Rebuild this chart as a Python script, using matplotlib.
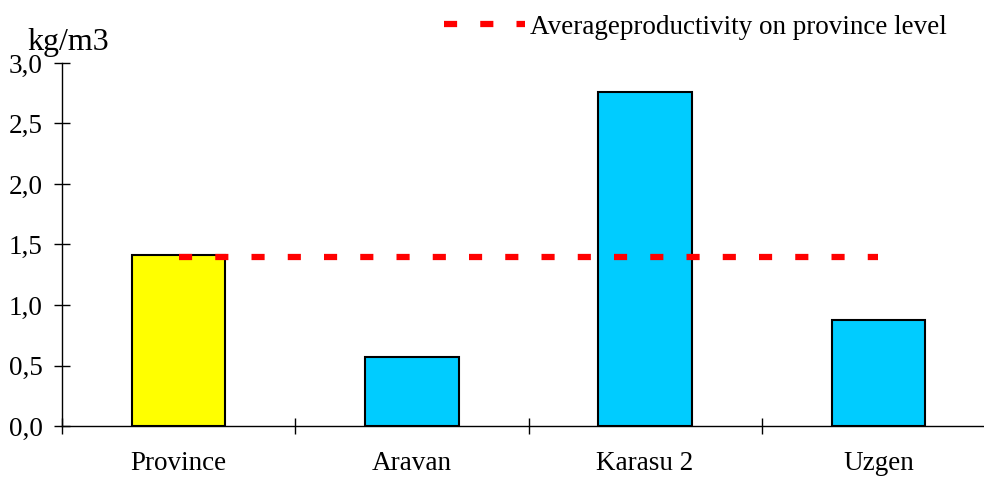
import matplotlib
matplotlib.use("Agg")
import matplotlib.pyplot as plt
from matplotlib.ticker import FuncFormatter

# ── data ─────────────────────────────────────────────────────────────────────
categories = ["Province", "Aravan", "Karasu 2", "Uzgen"]
productivity = [1.41, 0.57, 2.76, 0.88]
bar_colors = ["#FFFF00", "#00CCFF", "#00CCFF", "#00CCFF"]
province_avg = 1.40
legend_label = "Averageproductivity on province level"

plt.rcParams["font.family"] = ["Liberation Serif", "DejaVu Serif"]
plt.rcParams["font.size"] = 19.5

W, H = 984, 478
fig = plt.figure(figsize=(W / 100, H / 100), dpi=100)
ax = fig.add_axes([62 / W, (H - 426) / H, 933 / W, 363 / H])

x = list(range(len(categories)))
ax.bar(x, productivity, width=0.4, color=bar_colors, edgecolor="black",
       linewidth=1.5, zorder=2)

line, = ax.plot([x[0], x[-1]], [province_avg, province_avg], color="#FF0000",
                lw=4.5, zorder=3, label=legend_label, solid_capstyle="butt",
                dash_capstyle="butt")
line.set_dashes((2.1, 3.7))

ax.set_xlim(-0.5, len(categories) - 0.5)
ax.set_ylim(0, 3.0)
ax.set_yticks([0, 0.5, 1.0, 1.5, 2.0, 2.5, 3.0])
ax.yaxis.set_major_formatter(FuncFormatter(lambda v, p: f"{v:.1f}".replace(".", ",")))

# category labels centred, ticks at the boundaries
ax.set_xticks([i - 0.5 for i in x])
ax.set_xticklabels([])
ax.set_xticks(x, minor=True)
ax.set_xticklabels(categories, minor=True)
ax.tick_params(axis="x", which="minor", length=0, pad=18)
ax.tick_params(axis="x", which="major", direction="inout", length=12, width=1)
ax.tick_params(axis="y", direction="inout", length=12, width=1, pad=8)

for side in ("top", "right"):
    ax.spines[side].set_visible(False)
for side in ("left", "bottom"):
    ax.spines[side].set_linewidth(1)

fig.text(27 / W, 1 - 50 / H, "kg/m3", fontsize=23, ha="left", va="baseline")

ax.legend(loc="center left", bbox_to_anchor=(430 / W, 1 - 27 / H),
          bbox_transform=fig.transFigure, frameon=False, handlelength=3.0,
          handletextpad=0.2, borderpad=0, fontsize=19.5)

fig.savefig("out.png", dpi=100)
